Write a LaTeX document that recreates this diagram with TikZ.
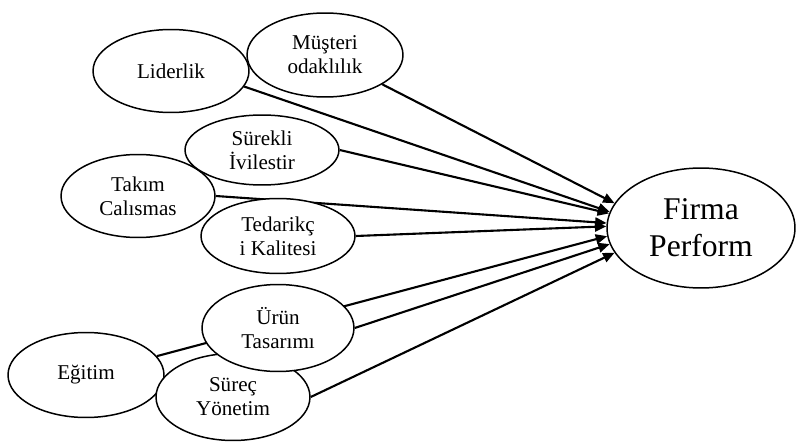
\documentclass[tikz,border=0pt]{standalone}
\usepackage{fontspec}
\setmainfont{Liberation Serif}
\usetikzlibrary{shapes.geometric,arrows.meta,backgrounds}

\begin{document}
\begin{tikzpicture}[x=0.02cm, y=-0.02cm,
    factor/.style={ellipse, draw, fill=white, line width=0.85pt, inner sep=0pt,
      align=center, font=\fontsize{12}{13.6}\selectfont},
    link/.style={line width=1.2pt, -{Triangle[length=6.5pt,width=5.5pt]}}]
  \useasboundingbox (0,0) rectangle (797,442);

  % factors
  \node [factor, minimum width=3.12cm, minimum height=1.66cm] (lid) at (171,71) {Liderlik};
  \node [factor, minimum width=3.12cm, minimum height=1.68cm] (mus) at (325,55) {Müşteri\\odaklılık};
  \node [factor, minimum width=3.08cm, minimum height=1.66cm] (tak) at (138,196) {Takım\\Calısmas};
  \node [factor, minimum width=3.08cm, minimum height=1.40cm] (sur) at (262,150) {Sürekli\\İvilestir};
  \node [factor, minimum width=3.08cm, minimum height=1.50cm] (ted) at (278,236) {Tedarikç\\i Kalitesi};
  \node [factor, minimum width=3.12cm, minimum height=1.70cm] (egi) at (86,375) {Eğitim};
  \node [factor, minimum width=3.08cm, minimum height=1.74cm] (sy) at (233,397) {Süreç\\Yönetim};
  \node [factor, minimum width=3.04cm, minimum height=1.74cm] (urun) at (278,328) {Ürün\\Tasarımı};

  % outcome
  \node [factor, minimum width=3.76cm, minimum height=2.40cm,
    font=\fontsize{18}{21}\selectfont] (firma) at (701,228) {Firma\\Perform};

  \begin{scope}[on background layer]
    \draw [link] (mus) -- (firma.164);
    \draw [link] (lid.-12) -- (firma.170);
    \draw [link] (sur.east) -- (firma.171.5);
    \draw [link] (tak.east) -- (firma.177);
    \draw [link] (ted.east) -- (firma.179);
    \draw [link] (egi) -- (firma.185.5);
    \draw [link] (urun.east) -- (firma.190.5);
    \draw [link] (sy.east) -- (firma.196);
  \end{scope}
\end{tikzpicture}
\end{document}
